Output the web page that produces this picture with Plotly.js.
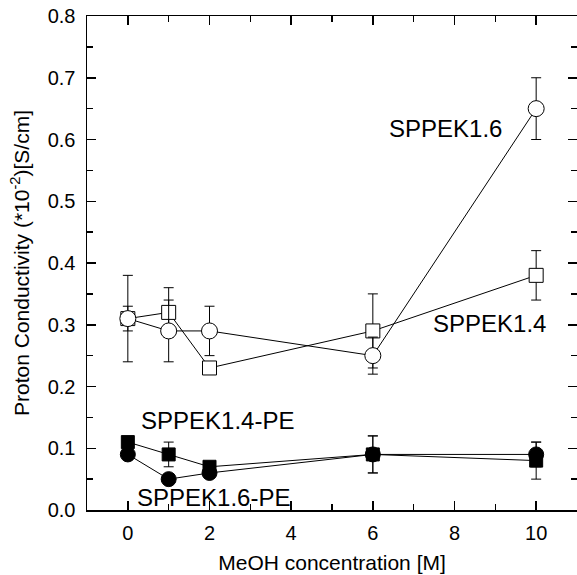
<!DOCTYPE html>
<html><head><meta charset="utf-8">
<script src="https://cdn.plot.ly/plotly-3.0.1.min.js"></script>
<style>html,body{margin:0;padding:0;background:#fff}</style>
</head><body>
<div id="chart" style="width:577px;height:575px"></div>
<script>
const meoh = [0, 1, 2, 6, 10];
const sppek16 = [0.31, 0.29, 0.29, 0.25, 0.65];
const sppek16Err = [0.07, 0.05, 0.04, 0.03, 0.05];
const sppek14 = [0.31, 0.32, 0.23, 0.29, 0.38];
const sppek14Err = [0.02, 0.04, 0.0, 0.06, 0.04];
const sppek14pe = [0.11, 0.09, 0.07, 0.09, 0.08];
const sppek14peErr = [0.0, 0.02, 0.0, 0.03, 0.03];
const sppek16pe = [0.09, 0.05, 0.06, 0.09, 0.09];
const sppek16peErr = [0.0, 0.0, 0.0, 0.03, 0.02];

function tr(y, err, sym, fill, size) {
  return {
    x: meoh, y: y, type: 'scatter', mode: 'lines+markers',
    line: {color: '#000', width: 1},
    marker: {symbol: sym, size: size, color: fill, line: {color: '#000', width: 1}},
    error_y: {type: 'data', array: err, visible: true, color: '#000', thickness: 1, width: 5},
    showlegend: false, cliponaxis: false
  };
}
const data = [
  tr(sppek14pe, sppek14peErr, 'square', '#000', 13),
  tr(sppek16pe, sppek16peErr, 'circle', '#000', 15),
  tr(sppek14, sppek14Err, 'square', '#fff', 14),
  tr(sppek16, sppek16Err, 'circle', '#fff', 16)
];
const fam = 'Liberation Sans, Arial, sans-serif';
const layout = {
  width: 577, height: 575,
  margin: {l: 87, r: 0, t: 16, b: 65},
  paper_bgcolor: '#fff', plot_bgcolor: '#fff',
  font: {family: fam, color: '#000'},
  xaxis: {
    range: [-1, 11], tickvals: [0, 2, 4, 6, 8, 10],
    ticks: 'inside', ticklen: 9, tickwidth: 1.5, tickcolor: '#000',
    minor: {tickvals: [1, 3, 5, 7, 9], ticks: 'inside', ticklen: 6, tickwidth: 1.5, tickcolor: '#000'},
    showline: true, linecolor: '#000', linewidth: 1.5, mirror: 'ticks',
    showgrid: false, zeroline: false,
    tickfont: {size: 20, family: fam, color: '#000'},
    ticklabelstandoff: 4,
    title: {text: 'MeOH concentration [M]', font: {size: 21, family: fam, color: '#000'}, standoff: 13}
  },
  yaxis: {
    range: [0, 0.8], tickvals: [0, 0.1, 0.2, 0.3, 0.4, 0.5, 0.6, 0.7, 0.8],
    ticktext: ['0.0', '0.1', '0.2', '0.3', '0.4', '0.5', '0.6', '0.7', '0.8'],
    ticks: 'inside', ticklen: 9, tickwidth: 1.5, tickcolor: '#000',
    minor: {tickvals: [0.05, 0.15, 0.25, 0.35, 0.45, 0.55, 0.65, 0.75], ticks: 'inside', ticklen: 6, tickwidth: 1.5, tickcolor: '#000'},
    showline: true, linecolor: '#000', linewidth: 1.5, mirror: 'ticks',
    showgrid: false, zeroline: false,
    tickfont: {size: 20, family: fam, color: '#000'},
    ticklabelstandoff: 6,
    title: {text: 'Proton Conductivity (*10<sup>-2</sup>)[S/cm]', font: {size: 21, family: fam, color: '#000'}, standoff: 12}
  },
  annotations: [
    {text: 'SPPEK1.6', x: 445, y: 128},
    {text: 'SPPEK1.4', x: 489, y: 323},
    {text: 'SPPEK1.4-PE', x: 217, y: 420},
    {text: 'SPPEK1.6-PE', x: 213, y: 497}
  ].map(a => ({
    text: a.text, showarrow: false,
    xref: 'paper', yref: 'paper',
    x: (a.x - 87) / 490, y: (510 - a.y) / 494,
    xanchor: 'center', yanchor: 'middle',
    font: {size: 24, family: fam, color: '#000'}
  }))
};
Plotly.newPlot('chart', data, layout, {displayModeBar: false, staticPlot: true});
</script>
</body></html>
